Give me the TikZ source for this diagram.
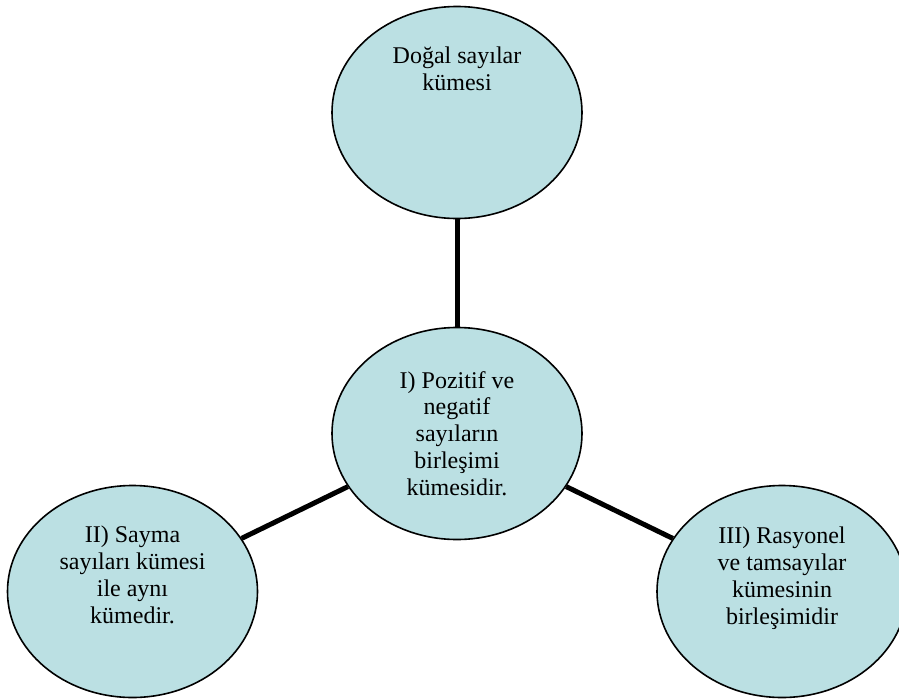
\documentclass[tikz,border=0pt]{standalone}
\usepackage{fontspec}
\setmainfont{Liberation Serif}
\usetikzlibrary{shapes.geometric}
\definecolor{bubblefill}{HTML}{BBE0E3}
\tikzset{
  bubble/.style={ellipse, draw=black, line width=1.6pt, fill=bubblefill,
    minimum width=250pt, minimum height=212pt, inner sep=0pt},
  bubbletext/.style={anchor=north, align=center, inner sep=0pt,
    font=\fontsize{24}{26.8}\selectfont, text=black,
    execute at begin node={\rule{0pt}{18pt}}},
  link/.style={line width=5pt, black}
}
\begin{document}
\begin{tikzpicture}[x=1pt,y=-1pt]
  \clip (0,0) rectangle (899,699);
  \fill[white] (0,0) rectangle (899,699);
  \node[bubble] (top) at (457,112.5) {};
  \node[bubble] (mid) at (457,433.5) {};
  \node[bubble] (left) at (132.5,591.5) {};
  \node[bubble] (right) at (782,591.5) {};
  \draw[link] (top) -- (mid);
  \draw[link] (mid) -- (left);
  \draw[link] (mid) -- (right);
  \node[bubbletext] (ttop) at (457,47) {Doğal sayılar\\kümesi};
  \node[bubbletext] (tmid) at (457,371) {I) Pozitif ve\\negatif\\sayıların\\birleşimi\\kümesidir.};
  \node[bubbletext] (tleft) at (132.5,526) {II) Sayma\\sayıları kümesi\\ile aynı\\kümedir.};
  \node[bubbletext] (tright) at (782,527) {III) Rasyonel\\ve tamsayılar\\kümesinin\\birleşimidir};
\end{tikzpicture}
\end{document}
